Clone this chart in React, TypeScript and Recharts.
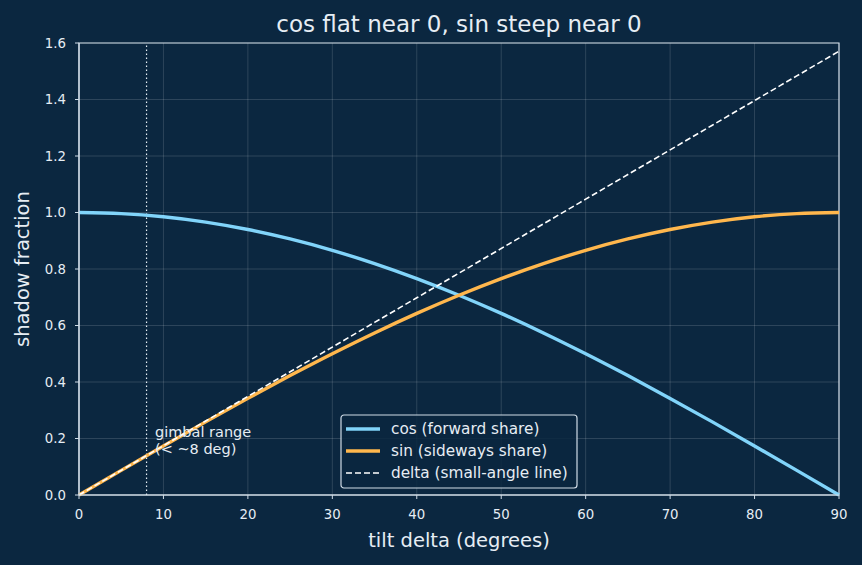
import React from 'react'
import { LineChart, Line, XAxis, YAxis, CartesianGrid, ReferenceLine, ReferenceArea, ReferenceDot, Legend } from 'recharts'

const bg = '#0b2740'
const fg = '#e6edf4'
const spine = '#cfdbe6'

// tilt angle in degrees
const tilt = [0, 5, 10, 15, 20, 25, 30, 35, 40, 45, 50, 55, 60, 65, 70, 75, 80, 85, 90]
// forward share
const cosShare = [1, 0.9962, 0.9848, 0.9659, 0.9397, 0.9063, 0.866, 0.8192, 0.766, 0.7071, 0.6428, 0.5736, 0.5, 0.4226, 0.342, 0.2588, 0.1736, 0.0872, 0]
// sideways share
const sinShare = [0, 0.0872, 0.1736, 0.2588, 0.342, 0.4226, 0.5, 0.5736, 0.6428, 0.7071, 0.766, 0.8192, 0.866, 0.9063, 0.9397, 0.9659, 0.9848, 0.9962, 1]
// small-angle line (radians)
const deltaLine = [0, 0.0873, 0.1745, 0.2618, 0.3491, 0.4363, 0.5236, 0.6109, 0.6981, 0.7854, 0.8727, 0.9599, 1.0472, 1.1345, 1.2217, 1.309, 1.3963, 1.4835, 1.5708]

const xTicks = [0, 10, 20, 30, 40, 50, 60, 70, 80, 90]
const yTicks = [0, 0.2, 0.4, 0.6, 0.8, 1.0, 1.2, 1.4, 1.6]

const seriesInfo = [
    { key: 'cos', name: 'cos (forward share)', color: '#81d4fa', width: 3.4, dash: undefined },
    { key: 'sin', name: 'sin (sideways share)', color: '#ffb74d', width: 3.4, dash: undefined },
    { key: 'delta', name: 'delta (small-angle line)', color: '#ffffff', width: 1.6, dash: '6 3' },
]

const data = tilt.map((t, i) => ({
    t,
    cos: cosShare[i],
    sin: sinShare[i],
    delta: deltaLine[i],
}))

const font = '"DejaVu Sans", sans-serif'

function LegendBox() {
    return (
        <svg width={238} height={75} style={{ display: 'block' }}>
            <rect x={1} y={1} width={236} height={73} rx={3} fill={bg} fillOpacity={0.85} stroke={spine} strokeWidth={1.2} />
            {seriesInfo.map((s, i) => {
                const y = 15 + i * 22
                return (
                    <g key={s.key}>
                        <line x1={6} x2={40} y1={y} y2={y} stroke={s.color} strokeWidth={s.width} strokeDasharray={s.dash} />
                        <text x={51} y={y + 5} fill={fg} fontSize={15.3} fontFamily={font}>{s.name}</text>
                    </g>
                )
            })}
        </svg>
    )
}

function GimbalLabel(props: any) {
    const { cx, cy } = props
    return (
        <g>
            <text x={cx} y={cy - 2} fill={fg} fontSize={14.5} fontFamily={font}>gimbal range</text>
            <text x={cx} y={cy + 15} fill={fg} fontSize={14.5} fontFamily={font}>(&lt; ~8 deg)</text>
        </g>
    )
}

export default function App() {
    return (
        <div style={{ position: 'fixed', left: 0, top: 0, width: 862, height: 565, background: bg, fontFamily: font }}>
            <LineChart width={862} height={565} data={data} margin={{ top: 43, right: 23, bottom: 0, left: 0 }}>
                <text x={459} y={32} textAnchor="middle" fill={fg} fontSize={23} fontFamily={font}>cos flat near 0, sin steep near 0</text>
                <CartesianGrid stroke="#ffffff" strokeOpacity={0.18} strokeWidth={0.8} />
                <XAxis
                    dataKey="t"
                    type="number"
                    domain={[0, 90]}
                    ticks={xTicks}
                    height={70}
                    tickSize={4}
                    tickMargin={11}
                    axisLine={{ stroke: spine, strokeWidth: 1.2 }}
                    tickLine={{ stroke: spine }}
                    tick={{ fill: fg, fontSize: 13.3, fontFamily: font }}
                    label={{ value: 'tilt delta (degrees)', position: 'insideBottom', offset: 18, fill: fg, fontSize: 19.5, fontFamily: font }}
                />
                <YAxis
                    type="number"
                    domain={[0, 1.6]}
                    ticks={yTicks}
                    width={79}
                    tickSize={4}
                    tickMargin={9}
                    tickFormatter={(v: number) => v.toFixed(1)}
                    axisLine={{ stroke: spine, strokeWidth: 1.2 }}
                    tickLine={{ stroke: spine }}
                    tick={{ fill: fg, fontSize: 13.3, fontFamily: font }}
                    label={{ value: 'shadow fraction', angle: -90, position: 'insideLeft', offset: 22, fill: fg, fontSize: 19.5, fontFamily: font, style: { textAnchor: 'middle' } }}
                />
                <ReferenceLine x={8} stroke={fg} strokeWidth={1.2} strokeDasharray="1.5 2.5" />
                {seriesInfo.map((s) => (
                    <Line
                        key={s.key}
                        dataKey={s.key}
                        name={s.name}
                        type="monotone"
                        stroke={s.color}
                        strokeWidth={s.width}
                        strokeDasharray={s.dash}
                        dot={false}
                        isAnimationActive={false}
                    />
                ))}
                <ReferenceDot x={9} y={0.2} r={0} shape={(p: any) => <GimbalLabel {...p} />} />
                <ReferenceArea x1={0} x2={90} y1={0} y2={1.6} fill="none" stroke={spine} strokeWidth={1.2} />
                <Legend
                    layout="vertical"
                    align="center"
                    verticalAlign="middle"
                    content={() => <LegendBox />}
                    wrapperStyle={{ position: 'absolute', left: 340, top: 414, width: 238, height: 75 }}
                />
            </LineChart>
        </div>
    )
}
